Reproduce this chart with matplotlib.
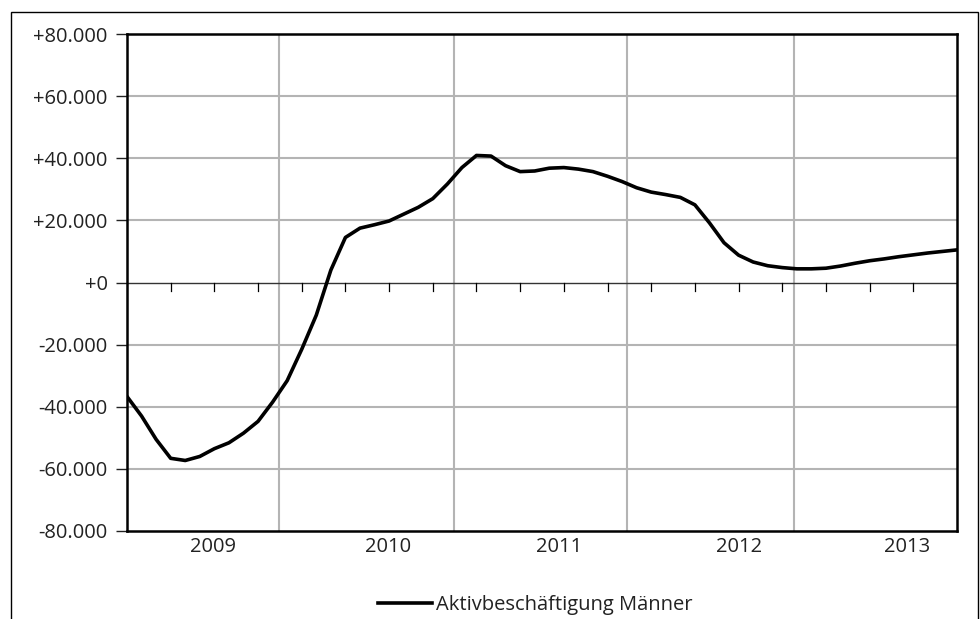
import matplotlib
matplotlib.use("Agg")
import matplotlib.pyplot as plt
from matplotlib.patches import Rectangle

# Monthly change in active employment of men (index 0 = first month shown)
months = list(range(58))
values = [
    -36700, -43000, -50500, -56600, -57300, -56000, -53500, -51600, -48500, -44700,
    -38500, -31600, -21500, -10500, 4000, 14500, 17500, 18600, 19800, 22000,
    24200, 27000, 31700, 37000, 40900, 40700, 37600, 35700, 35900, 36800,
    37000, 36500, 35700, 34200, 32500, 30500, 29100, 28300, 27400, 25000,
    19200, 12800, 8800, 6600, 5400, 4800, 4400, 4400, 4600, 5300,
    6200, 7000, 7600, 8300, 8900, 9500, 10000, 10500,
]
series_label = "Aktivbeschäftigung Männer"

year_labels = ["2009", "2010", "2011", "2012", "2013"]
year_label_pos = [5.9, 17.9, 29.7, 42.0, 53.6]
year_grid_pos = [10.43, 22.46, 34.34, 45.8]
quarter_ticks = list(range(3, 57, 3))
y_ticks = [-80000, -60000, -40000, -20000, 0, 20000, 40000, 60000, 80000]

plt.rcParams["font.family"] = ["Open Sans", "DejaVu Sans"]
FS = 14.5

fig = plt.figure(figsize=(9.8, 6.19), dpi=100)
ax = fig.add_axes([127 / 980, 1 - 531 / 619, (957 - 127) / 980, (531 - 34) / 619])

# outer chart frame
fig.patches.append(Rectangle((11 / 980, -0.05), (978 - 11) / 980, 1.05 - 12 / 619,
                             transform=fig.transFigure, fill=False,
                             edgecolor="black", linewidth=1.0))

ax.set_xlim(0, 57)
ax.set_ylim(-80000, 80000)

grid_color = "#b4b4b4"
for y in y_ticks:
    if y not in (0, -80000, 80000):
        ax.axhline(y, color=grid_color, linewidth=1.5, zorder=1)
for x in year_grid_pos:
    ax.axvline(x, color=grid_color, linewidth=1.5, zorder=1)

# zero line with quarterly tick marks
ax.axhline(0, color="#333333", linewidth=1.0, zorder=2)
for q in quarter_ticks:
    ax.plot([q, q], [0, -2600], color="black", linewidth=0.9, zorder=2)

ax.plot(months, values, color="black", linewidth=2.6, solid_joinstyle="round",
        zorder=3, label=series_label)

ax.set_yticks(y_ticks)
ax.set_yticklabels([("+" if v >= 0 else "-") + f"{abs(v):,}".replace(",", ".") for v in y_ticks])
ax.tick_params(axis="y", length=8, width=1.0, labelsize=FS, pad=6, colors="#222222")
ax.set_xticks([])

for pos, lab in zip(year_label_pos, year_labels):
    ax.text(pos, -82000, lab, ha="center", va="top", fontsize=FS, color="#222222")

for side in ["left", "right", "top", "bottom"]:
    ax.spines[side].set_linewidth(1.8)
    ax.spines[side].set_color("black")

fig.legend(loc="center left", bbox_to_anchor=(378 / 980, 1 - 605 / 619), frameon=False,
           fontsize=FS, handlelength=2.7, handletextpad=0.2, borderpad=0,
           borderaxespad=0, labelcolor="#222222")

fig.savefig("out.png", dpi=100)
